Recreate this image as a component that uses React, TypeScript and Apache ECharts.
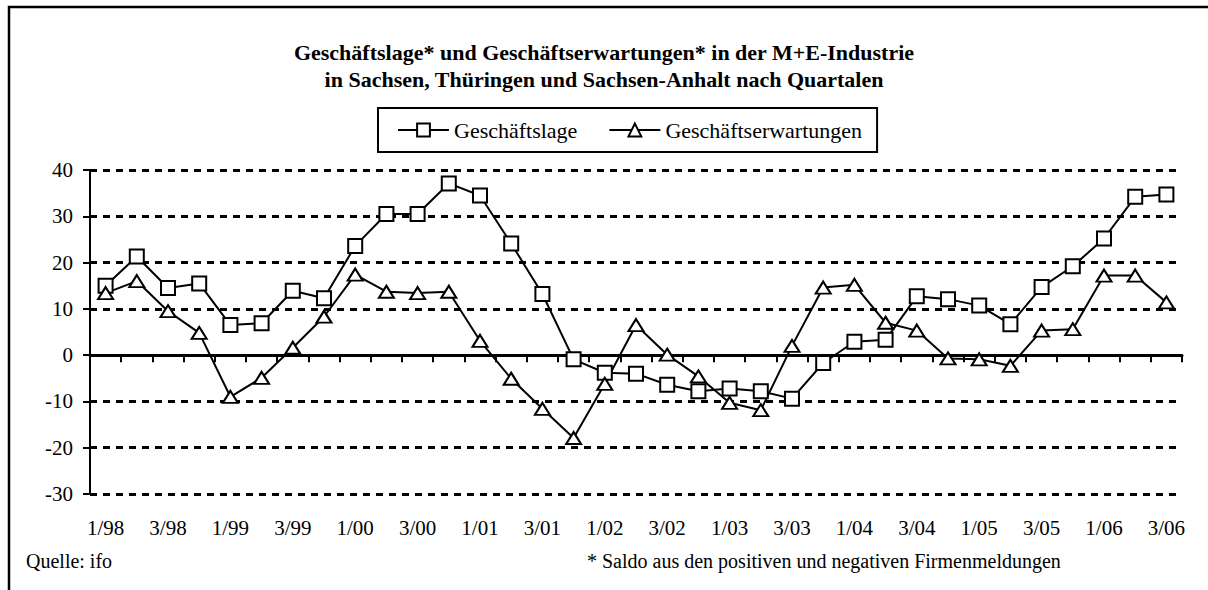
import React, { useEffect, useRef } from "react";
import * as echarts from "echarts";

const FONT = "'Liberation Serif', 'Times New Roman', serif";

const categories = [
  "1/98", "2/98", "3/98", "4/98",
  "1/99", "2/99", "3/99", "4/99",
  "1/00", "2/00", "3/00", "4/00",
  "1/01", "2/01", "3/01", "4/01",
  "1/02", "2/02", "3/02", "4/02",
  "1/03", "2/03", "3/03", "4/03",
  "1/04", "2/04", "3/04", "4/04",
  "1/05", "2/05", "3/05", "4/05",
  "1/06", "2/06", "3/06",
];

const geschaeftslage = [
  15.0, 21.3, 14.5, 15.5,
  6.5, 6.9, 13.9, 12.3,
  23.6, 30.5, 30.5, 37.1,
  34.5, 24.1, 13.2, -0.9,
  -3.8, -4.0, -6.4, -7.8,
  -7.2, -7.8, -9.4, -1.7,
  2.9, 3.3, 12.7, 12.1,
  10.7, 6.7, 14.7, 19.2,
  25.2, 34.2, 34.7,
];

const geschaeftserwartungen = [
  13.4, 16.0, 9.5, 4.8,
  -9.0, -4.9, 1.6, 8.3,
  17.4, 13.7, 13.4, 13.7,
  3.1, -5.1, -11.6, -17.9,
  -6.2, 6.5, 0.1, -4.6,
  -10.3, -11.9, 2.0, 14.6,
  15.2, 7.0, 5.3, -0.7,
  -0.9, -2.3, 5.3, 5.6,
  17.2, 17.2, 11.4,
];

const titleLines = [
  "Geschäftslage* und Geschäftserwartungen* in der M+E-Industrie",
  "in Sachsen, Thüringen und Sachsen-Anhalt nach Quartalen",
];
const sourceNote = "Quelle: ifo";
const footNote = "* Saldo aus den positiven und negativen Firmenmeldungen";

export default function App() {
  const ref = useRef<HTMLDivElement>(null);

  useEffect(() => {
    if (!ref.current) return;
    const chart = echarts.init(ref.current, undefined, { renderer: "svg" });
    chart.setOption({
      animation: false,
      backgroundColor: "#ffffff",
      textStyle: { fontFamily: FONT, color: "#000" },
      title: {
        text: titleLines.join("\n"),
        left: "center",
        top: 34,
        textStyle: {
          fontFamily: FONT,
          fontSize: 22,
          fontWeight: "bold",
          color: "#000",
          lineHeight: 27,
        },
      },
      legend: {
        left: 378,
        top: 108,
        orient: "horizontal",
        itemWidth: 51,
        itemHeight: 16,
        itemGap: 31,
        padding: [11, 15, 11, 19],
        borderColor: "#000",
        borderWidth: 2,
        textStyle: { fontFamily: FONT, fontSize: 22, color: "#000" },
        data: ["Geschäftslage", "Geschäftserwartungen"],
      },
      grid: { left: 90, right: 26, top: 170, bottom: 96, containLabel: false },
      xAxis: [
        {
          type: "category",
          data: categories,
          boundaryGap: true,
          axisLine: { show: true, onZero: true, lineStyle: { color: "#000", width: 3 } },
          axisTick: { show: true, interval: 0, length: 7, lineStyle: { color: "#000", width: 2 } },
          axisLabel: { show: false },
          splitLine: { show: false },
        },
        {
          type: "category",
          data: categories,
          position: "bottom",
          boundaryGap: true,
          axisLine: { show: false, onZero: false },
          axisTick: { show: false },
          axisLabel: {
            show: true,
            interval: 1,
            fontFamily: FONT,
            fontSize: 21,
            color: "#000",
            margin: 23,
          },
          splitLine: { show: false },
        },
      ],
      yAxis: {
        type: "value",
        min: -30,
        max: 40,
        interval: 10,
        axisLine: { show: true, onZero: false, lineStyle: { color: "#000", width: 2 } },
        axisTick: { show: true, length: 7, lineStyle: { color: "#000", width: 2 } },
        axisLabel: { fontFamily: FONT, fontSize: 21, color: "#000", margin: 17 },
        splitLine: {
          show: true,
          lineStyle: { color: "#000", width: 3, type: [7, 6], dashOffset: 0 },
        },
      },
      series: [
        {
          name: "Geschäftslage",
          type: "line",
          data: geschaeftslage,
          xAxisIndex: 0,
          symbol: "rect",
          symbolSize: 14,
          showAllSymbol: true,
          lineStyle: { color: "#000", width: 2 },
          itemStyle: { color: "#fff", borderColor: "#000", borderWidth: 2 },
        },
        {
          name: "Geschäftserwartungen",
          type: "line",
          data: geschaeftserwartungen,
          xAxisIndex: 0,
          symbol: "triangle",
          symbolSize: [15, 12],
          showAllSymbol: true,
          lineStyle: { color: "#000", width: 2 },
          itemStyle: { color: "#fff", borderColor: "#000", borderWidth: 2 },
        },
      ],
      graphic: [
        {
          type: "rect",
          silent: true,
          z: 100,
          shape: { x: 9, y: 7, width: 1240, height: 640 },
          style: { fill: "none", stroke: "#000", lineWidth: 2.5 },
        },
        {
          type: "text",
          x: 26,
          y: 561,
          style: {
            text: sourceNote,
            fontFamily: FONT,
            fontSize: 20,
            fill: "#000",
            verticalAlign: "middle",
            align: "left",
          },
        },
        {
          type: "text",
          x: 587,
          y: 561,
          style: {
            text: footNote,
            fontFamily: FONT,
            fontSize: 20,
            fill: "#000",
            verticalAlign: "middle",
            align: "left",
          },
        },
      ],
    });
    return () => chart.dispose();
  }, []);

  return (
    <div
      ref={ref}
      style={{ position: "fixed", left: 0, top: 0, width: 1208, height: 590, background: "#fff" }}
    />
  );
}
